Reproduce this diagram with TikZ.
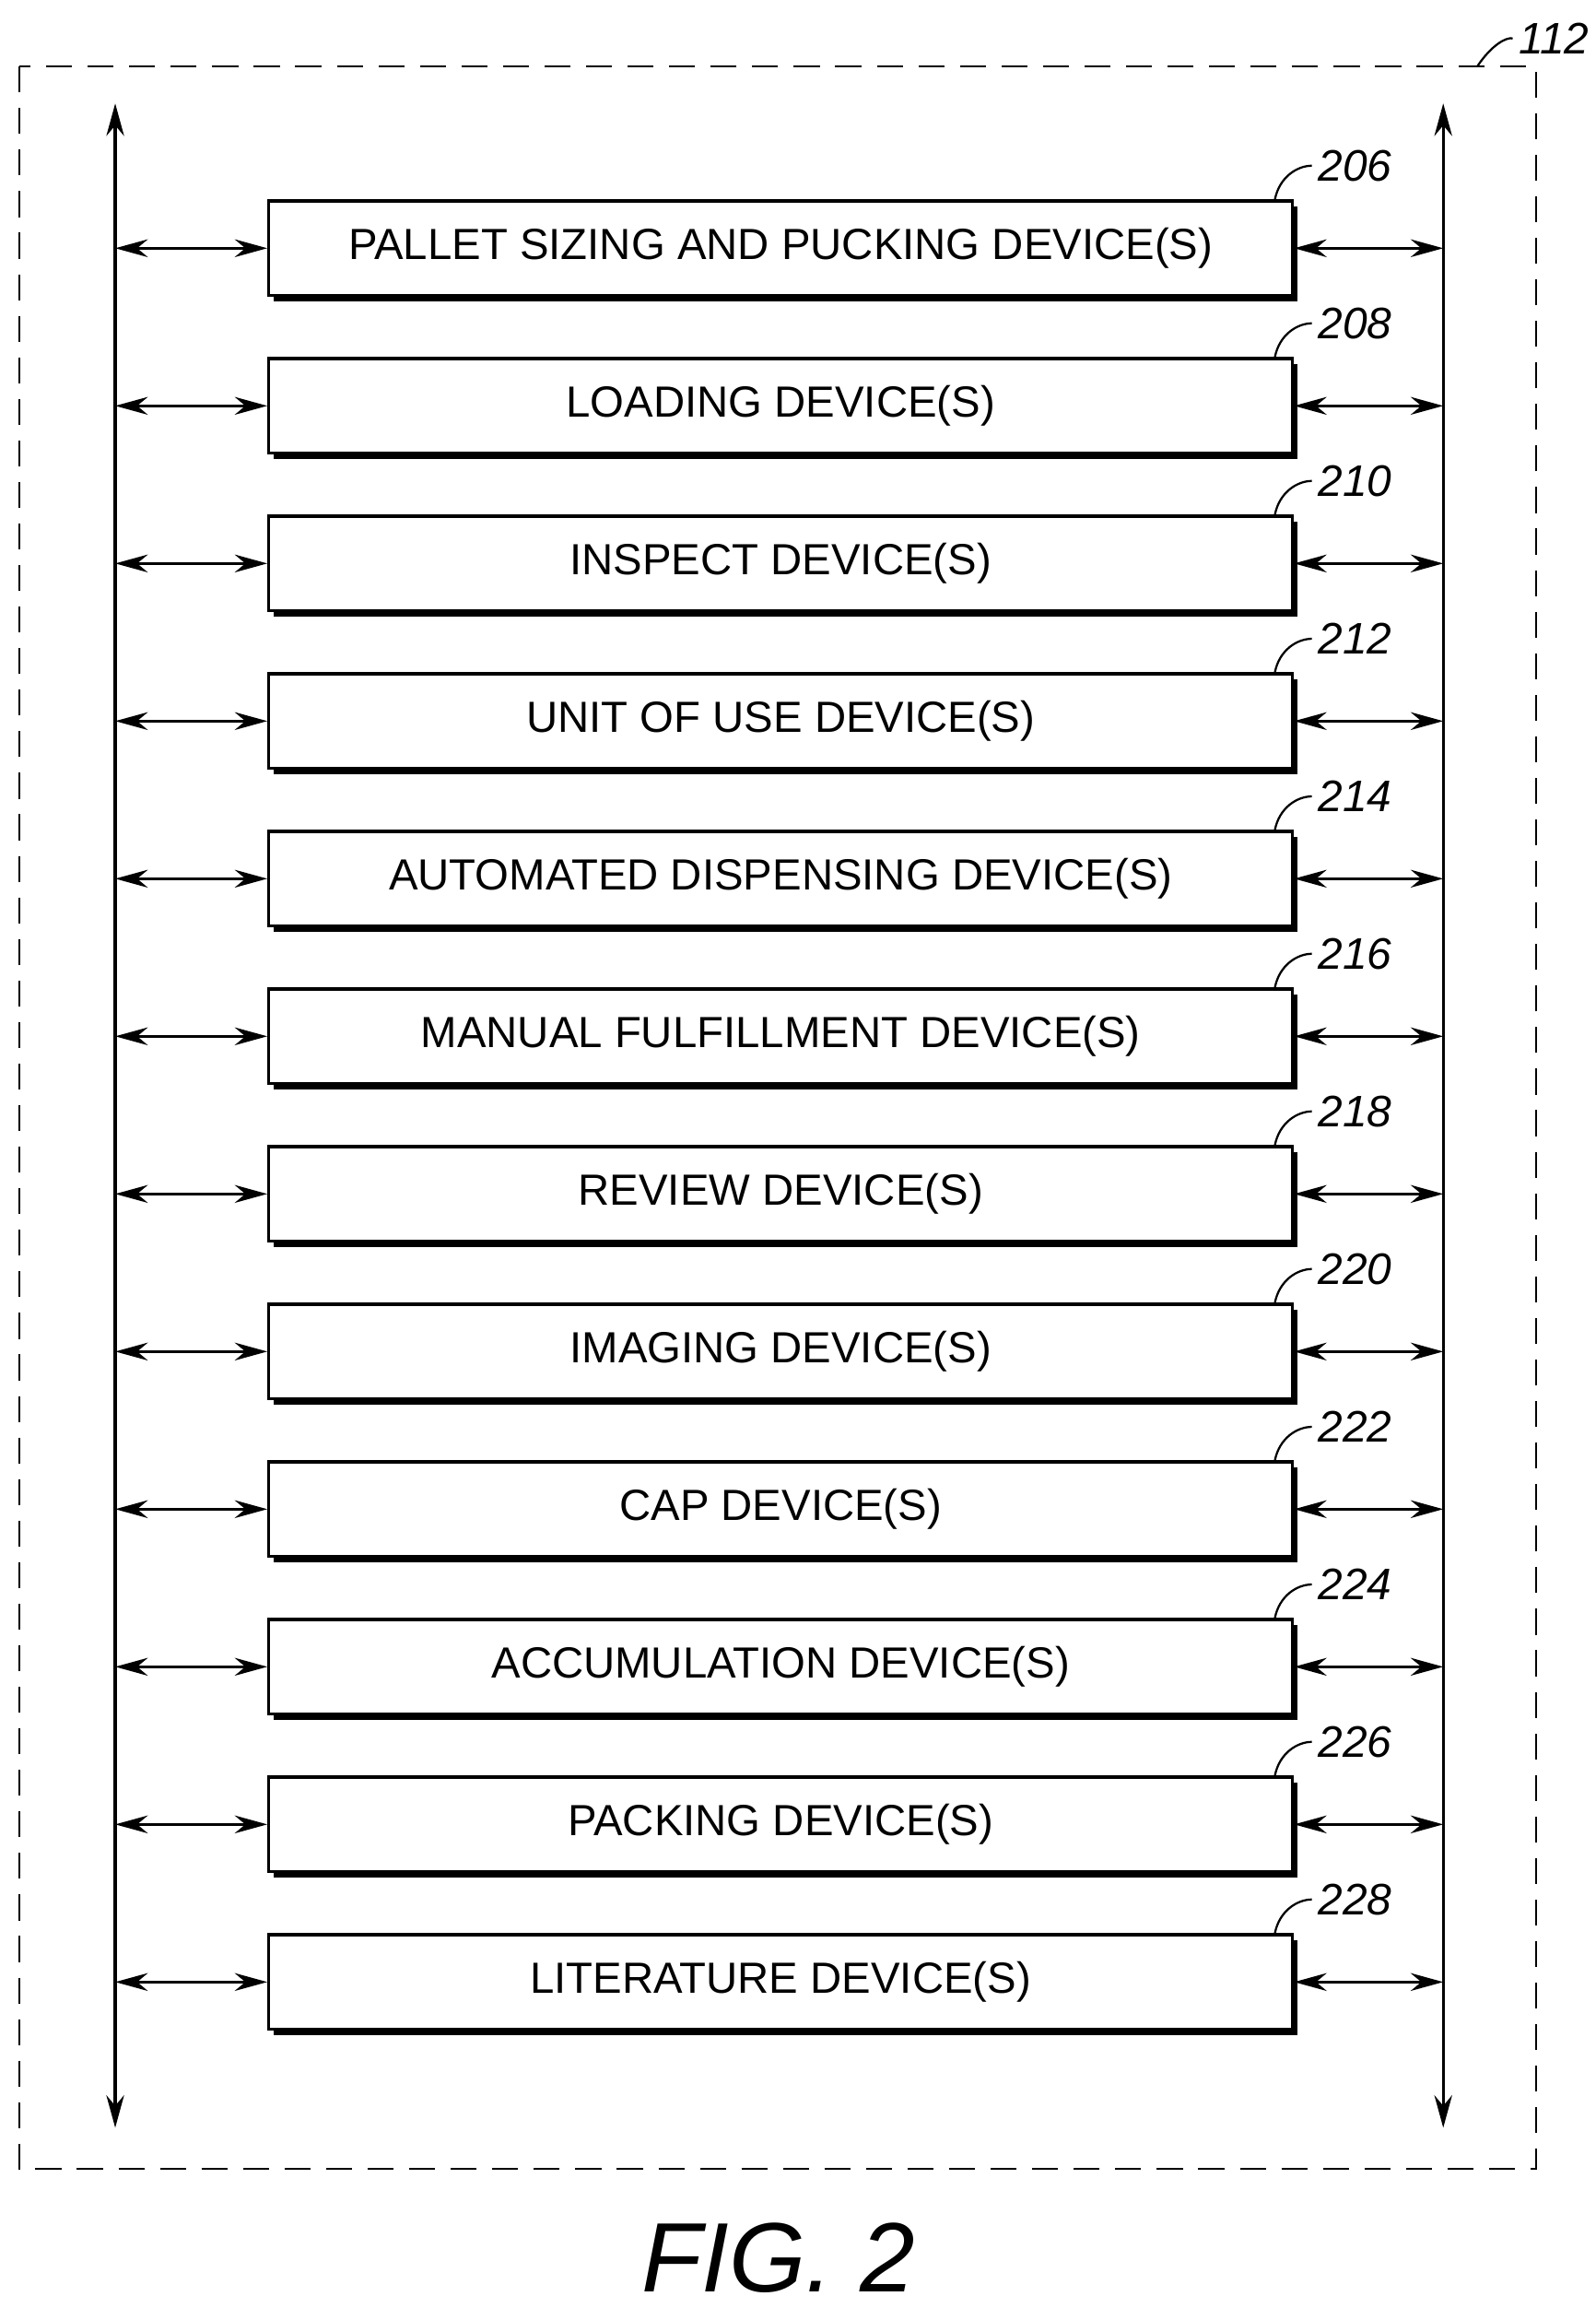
\documentclass[tikz,border=0pt]{standalone}
\usepackage{fontspec}
\setmainfont{Liberation Sans}
\usetikzlibrary{arrows.meta,shadows,positioning}

\tikzset{
  devbox/.style={draw,line width=0.6pt,fill=white,minimum width=6.93cm,minimum height=0.64cm,
    font=\fontsize{8.4}{10}\selectfont,
    drop shadow={shadow xshift=0.035cm,shadow yshift=-0.04cm,fill=black,opacity=1}},
  bus/.style={line width=0.6pt,{Stealth[length=0.22cm,width=0.12cm]}-{Stealth[length=0.22cm,width=0.12cm]}},
  reflabel/.style={font=\fontsize{8.5}{10}\selectfont\itshape,inner sep=1pt},
}

\begin{document}
\begin{tikzpicture}
  \useasboundingbox (0,0) rectangle (10.8,-15.62);
  % frame
  \draw[dashed,line width=0.4pt,dash pattern=on 5pt off 3pt] (0.13,-0.45) rectangle (10.40,-14.68);
  \node[reflabel] (l112) at (10.52,-0.26) {112};
  \draw[line width=0.4pt] (10.00,-0.45) .. controls (10.10,-0.30) and (10.20,-0.25) .. (l112.west);
  % buses
  \coordinate (lt) at (0.78,-0.70);
  \coordinate (lb) at (0.78,-14.40);
  \coordinate (rt) at (9.77,-0.70);
  \coordinate (rb) at (9.77,-14.40);
  \draw[bus] (lt) -- (lb);
  \draw[bus] (rt) -- (rb);
  % devices
  \foreach \n/\txt [count=\i from 0] in {206/PALLET SIZING AND PUCKING DEVICE(S),
      208/LOADING DEVICE(S),210/INSPECT DEVICE(S),212/UNIT OF USE DEVICE(S),
      214/AUTOMATED DISPENSING DEVICE(S),216/MANUAL FULFILLMENT DEVICE(S),
      218/REVIEW DEVICE(S),220/IMAGING DEVICE(S),222/CAP DEVICE(S),
      224/ACCUMULATION DEVICE(S),226/PACKING DEVICE(S),228/LITERATURE DEVICE(S)}{
    \pgfmathsetmacro{\yy}{-1.68-1.0667*\i}
    \node[devbox] (box\n) at (5.285,\yy) {\txt};
    \coordinate (bl\n) at (0.78,\yy);
    \coordinate (br\n) at (9.77,\yy);
    \draw[bus] (bl\n) -- (box\n.west);
    \draw[bus] (box\n.east) -- (br\n);
    \node[reflabel,above right=0.08cm and 0.12cm of box\n.north east] (l\n) {\n};
    \draw[line width=0.4pt] ([xshift=-0.13cm]box\n.north east) .. controls +(0.03,0.15) and +(-0.1,0) .. (l\n.west);
  }
  \node[font=\fontsize{19}{22}\selectfont\itshape] (fig) at (5.27,-15.28) {FIG. 2};
\end{tikzpicture}
\end{document}
